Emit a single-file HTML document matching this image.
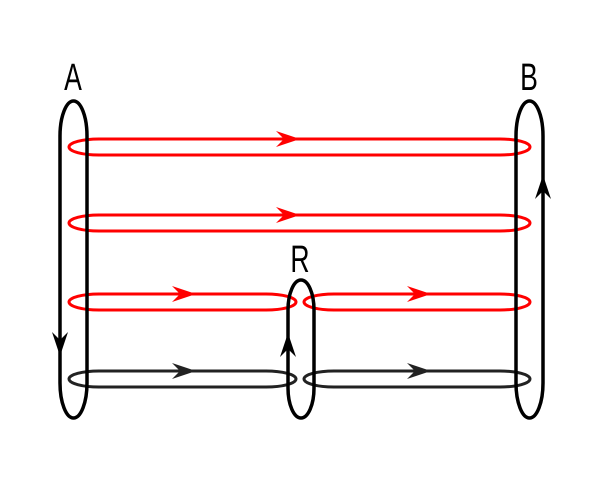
<!DOCTYPE html>
<html><head><style>body{margin:0;background:#fff}svg{display:block}</style></head><body>
<svg width="600" height="477" viewBox="0 0 600 477" xmlns="http://www.w3.org/2000/svg">
<defs>
<path id="ah" d="M-24,-8 L0,0 L-24,8 L-16,0 Z"/>
</defs>
<g fill="none" stroke-width="3">
<path d="M99,139 H500 A30,8 0 0 1 500,155 H99 A30,8 0 0 1 99,139 Z" stroke="#f00"/>
<path d="M99,215 H500 A30,8 0 0 1 500,231 H99 A30,8 0 0 1 99,215 Z" stroke="#f00"/>
<path d="M99,294 H266 A30,8 0 0 1 266,310 H99 A30,8 0 0 1 99,294 Z" stroke="#f00"/>
<path d="M334,294 H500 A30,8 0 0 1 500,310 H334 A30,8 0 0 1 334,294 Z" stroke="#f00"/>
<path d="M99,371 H266 A30,8 0 0 1 266,387 H99 A30,8 0 0 1 99,371 Z" stroke="#222"/>
<path d="M334,371 H500 A30,8 0 0 1 500,387 H334 A30,8 0 0 1 334,371 Z" stroke="#222"/>
<g stroke="#000" stroke-width="3.5">
<path d="M60,136 A13.5,35 0 0 1 87,136 V383 A13.5,35 0 0 1 60,383 Z"/>
<path d="M288,310 A13,30 0 0 1 314,310 V388 A13,30 0 0 1 288,388 Z"/>
<path d="M516,136 A13.5,35 0 0 1 543,136 V383 A13.5,35 0 0 1 516,383 Z"/>
</g>
</g>
<use href="#ah" fill="#f00" transform="translate(300,139)"/>
<use href="#ah" fill="#f00" transform="translate(300,215)"/>
<use href="#ah" fill="#f00" transform="translate(196,294)"/>
<use href="#ah" fill="#f00" transform="translate(431,294)"/>
<use href="#ah" fill="#222" transform="translate(196,371)"/>
<use href="#ah" fill="#222" transform="translate(431,371)"/>
<use href="#ah" fill="#000" transform="translate(60,356) rotate(90)"/>
<use href="#ah" fill="#000" transform="translate(288,333) rotate(-90)"/>
<use href="#ah" fill="#000" transform="translate(543,175) rotate(-90)"/>
<g font-family="Liberation Sans, sans-serif" font-size="38" text-anchor="middle" fill="#000">
<text x="73" y="90" transform="translate(73,0) scale(0.7,1) translate(-73,0)">A</text>
<text x="529" y="90" transform="translate(529,0) scale(0.7,1) translate(-529,0)">B</text>
<text x="300" y="272" transform="translate(300,0) scale(0.7,1) translate(-300,0)">R</text>
</g>
</svg>
</body></html>
